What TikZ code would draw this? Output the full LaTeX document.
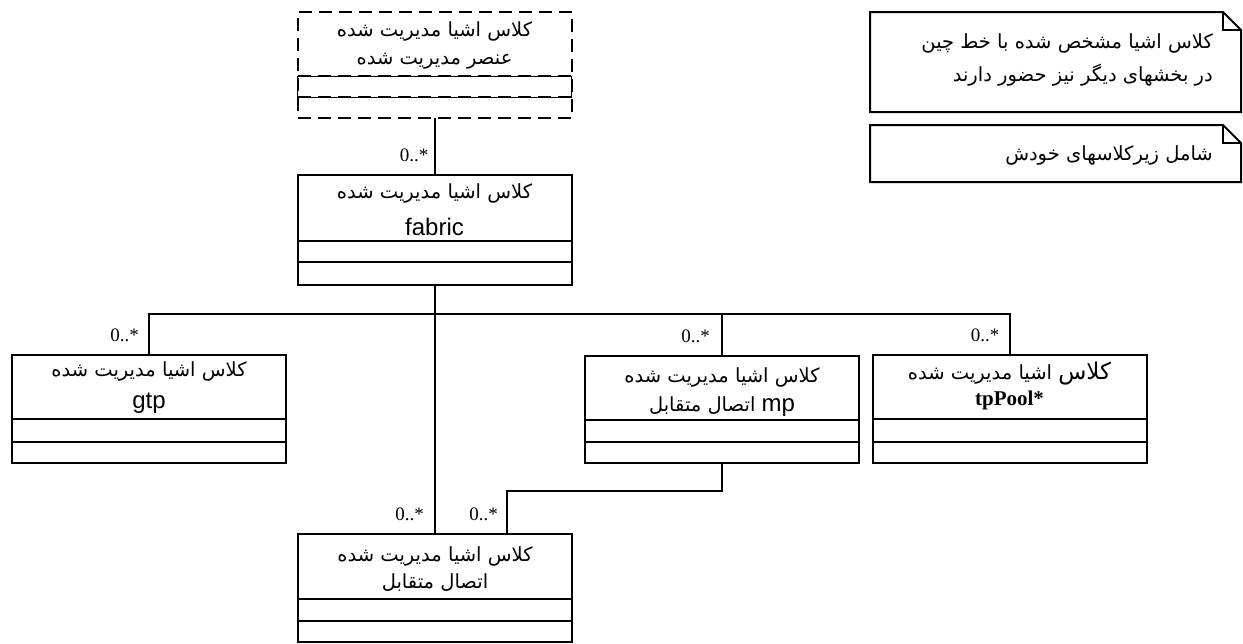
\documentclass[tikz,border=0pt]{standalone}
\usepackage{fontspec}
\usetikzlibrary{calc}
\TeXXeTstate=1
\newfontfamily\arabicfont[Script=Arabic]{DejaVu Sans}
\newfontfamily\latinsans{Liberation Sans}
\newfontfamily\latinserif{Liberation Serif}

\begin{document}
\begin{tikzpicture}[x=1pt,y=-1pt,
  umlclass/.style={draw, line width=2pt, minimum width=274pt, inner sep=0pt, outer sep=0pt},
  compart/.style={line width=2pt},
  link/.style={line width=2pt},
  title/.style={inner sep=0pt, font=\arabicfont\fontsize{19.5}{22}\selectfont},
  ident/.style={inner sep=0pt, font=\latinsans\fontsize{24}{26}\selectfont},
  mult/.style={inner sep=0pt, anchor=east, font=\latinserif\fontsize{19}{20}\selectfont},
  notebox/.style={line width=2pt, line join=miter},
  notetext/.style={inner sep=0pt, anchor=east, font=\arabicfont\fontsize{19.5}{22}\selectfont}
]
\useasboundingbox (0,0) rectangle (1243,643);

% ---- dashed class shared with other parts
\node[umlclass, dashed, dash pattern=on 13pt off 7pt, minimum height=106pt] (mgd) at (434.5,65) {};
\draw[line width=0.7pt] ([yshift=-64pt]mgd.north west) rectangle ([yshift=-85pt]mgd.north east);
\draw[compart, dash pattern=on 13pt off 7pt] ([yshift=-64pt]mgd.north west) -- ([yshift=-64pt]mgd.north east);
\draw[compart, dash pattern=on 13pt off 7pt] ([yshift=-85pt]mgd.north west) -- ([yshift=-85pt]mgd.north east);
\node[title] (mgd-t1) at (434.5,31) {\beginR کلاس اشیا مدیریت شده\endR};
\node[title] (mgd-t2) at (434.5,61) {\beginR عنصر مدیریت شده\endR};

% ---- fabric
\node[umlclass, minimum height=110pt] (fabric) at (434.5,230) {};
\draw[compart] ([yshift=-66pt]fabric.north west) -- ([yshift=-66pt]fabric.north east);
\draw[compart] ([yshift=-87pt]fabric.north west) -- ([yshift=-87pt]fabric.north east);
\node[title] (fabric-t1) at (434.5,193) {\beginR کلاس اشیا مدیریت شده\endR};
\node[ident] (fabric-t2) at (434.5,227) {fabric};

% ---- gtp
\node[umlclass, minimum height=108pt] (gtp) at (149,409) {};
\draw[compart] ([yshift=-64pt]gtp.north west) -- ([yshift=-64pt]gtp.north east);
\draw[compart] ([yshift=-87pt]gtp.north west) -- ([yshift=-87pt]gtp.north east);
\node[title] (gtp-t1) at (149,371) {\beginR کلاس اشیا مدیریت شده\endR};
\node[ident] (gtp-t2) at (149,403) {gtp};

% ---- mp
\node[umlclass, minimum height=107pt] (mp) at (722,409.5) {};
\draw[compart] ([yshift=-64pt]mp.north west) -- ([yshift=-64pt]mp.north east);
\draw[compart] ([yshift=-86pt]mp.north west) -- ([yshift=-86pt]mp.north east);
\node[title] (mp-t1) at (722,377) {\beginR کلاس اشیا مدیریت شده\endR};
\node[title] (mp-t2) at (722,407) {\beginR {\latinsans\fontsize{24}{26}\selectfont\beginL mp\endL} اتصال متقابل\endR};

% ---- tpPool
\node[umlclass, minimum height=108pt] (tp) at (1009.5,409) {};
\draw[compart] ([yshift=-64pt]tp.north west) -- ([yshift=-64pt]tp.north east);
\draw[compart] ([yshift=-87pt]tp.north west) -- ([yshift=-87pt]tp.north east);
\node[title] (tp-t1) at (1009.5,374) {\beginR {\fontsize{23}{24}\selectfont کلاس} اشیا مدیریت شده\endR};
\node[inner sep=0pt, font=\latinserif\bfseries\fontsize{21}{22}\selectfont] (tp-t2) at (1009.5,400) {tpPool*};

% ---- bottom class
\node[umlclass, minimum height=108pt] (bot) at (435,588) {};
\draw[compart] ([yshift=-65pt]bot.north west) -- ([yshift=-65pt]bot.north east);
\draw[compart] ([yshift=-87pt]bot.north west) -- ([yshift=-87pt]bot.north east);
\node[title] (bot-t1) at (435,556) {\beginR کلاس اشیا مدیریت شده\endR};
\node[title] (bot-t2) at (435,583) {\beginR اتصال متقابل\endR};

% ---- associations
\coordinate (bus) at (0,314);
\coordinate (bot-in) at ($(bot.north)+(72,0)$);
\draw[link] (mgd.south) -- (mgd.south |- fabric.north);
\draw[link] (fabric.south) -- (fabric.south |- bot.north);
\draw[link] (gtp.north) -- (gtp.north |- bus) -- (tp.north |- bus) -- (tp.north);
\draw[link] (mp.north) -- (mp.north |- bus);
\draw[link] (mp.south) -- ++(0,28) -| (bot-in);

% ---- multiplicities
\node[mult] (m-fabric) at ($(fabric.north)+(-6,-20)$) {0..*};
\node[mult] (m-gtp) at ($(gtp.north)+(-10,-20)$) {0..*};
\node[mult] (m-mp) at ($(mp.north)+(-12,-20)$) {0..*};
\node[mult] (m-tp) at ($(tp.north)+(-10,-20)$) {0..*};
\node[mult] (m-bot1) at ($(bot.north)+(-11,-20)$) {0..*};
\node[mult] (m-bot2) at ($(bot-in)+(-9,-20)$) {0..*};

% ---- notes
\draw[notebox] (870,12) -- (1223,12) -- (1241,30) -- (1241,112) -- (870,112) -- cycle;
\draw[notebox] (1223,12) -- (1223,30) -- (1241,30);
\node[notetext] (note1-l1) at (1213,43) {\beginR کلاس اشیا مشخص شده با خط چین\endR};
\node[notetext] (note1-l2) at (1213,75) {\beginR در بخشهای دیگر نیز حضور دارند\endR};

\draw[notebox] (870,125) -- (1223,125) -- (1241,143) -- (1241,182) -- (870,182) -- cycle;
\draw[notebox] (1223,125) -- (1223,143) -- (1241,143);
\node[notetext] (note2-l1) at (1213,155) {\beginR شامل زیرکلاسهای خودش\endR};
\end{tikzpicture}
\end{document}
